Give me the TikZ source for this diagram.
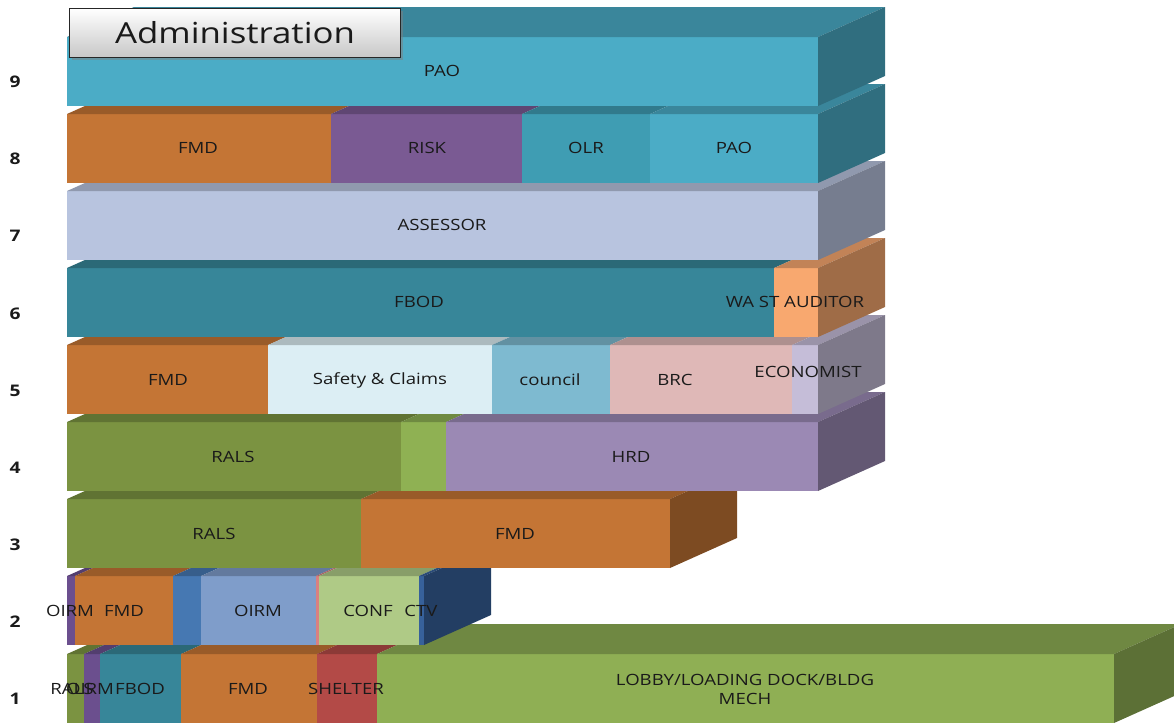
\documentclass[tikz,border=0pt]{standalone}
\usepackage{fontspec}
\setmainfont[FakeStretch=1.2]{Open Sans}
\usetikzlibrary{shadows}

% department colours
\definecolor{pao}{HTML}{4BACC6}
\definecolor{fmd}{HTML}{C47535}
\definecolor{risk}{HTML}{7A5A93}
\definecolor{olr}{HTML}{3F9DB3}
\definecolor{assessor}{HTML}{B8C4DF}
\definecolor{fbod}{HTML}{378699}
\definecolor{auditor}{HTML}{F8A86F}
\definecolor{safety}{HTML}{DCEEF4}
\definecolor{council}{HTML}{7EBAD0}
\definecolor{brc}{HTML}{DFB8B7}
\definecolor{econ}{HTML}{C5BDD8}
\definecolor{rals}{HTML}{7B9341}
\definecolor{ralslt}{HTML}{8FB153}
\definecolor{hrd}{HTML}{9B89B4}
\definecolor{oirmp}{HTML}{6B4F8E}
\definecolor{fmdblue}{HTML}{4678B2}
\definecolor{oirm}{HTML}{7F9DCA}
\definecolor{pink}{HTML}{D98080}
\definecolor{conf}{HTML}{AFCA86}
\definecolor{ctv}{HTML}{37619A}
\definecolor{shelter}{HTML}{B34A47}
\definecolor{lobby}{HTML}{8FAF54}
\definecolor{txt}{HTML}{1A1A1A}

% front + top face of one block: top y, left x, right x, colour
\newcommand{\floorseg}[4]{%
  \fill[#4] (#2,#1) rectangle (#3,#1+69);
  \fill[#4!78!black] (#2,#1) -- (#2+67,#1-30) -- (#3+67,#1-30) -- (#3,#1) -- cycle;}
% right end face of a floor: top y, right x, colour
\newcommand{\floorside}[3]{%
  \fill[#3!64!black] (#2,#1) -- (#2+67,#1-30) -- (#2+67,#1+39) -- (#2,#1+69) -- cycle;}

\begin{document}
\begin{tikzpicture}[x=1pt, y=-1pt,
    lbl/.style={text=txt, inner sep=0pt, align=center, font=\fontsize{15.5}{19}\selectfont},
    num/.style={text=txt, inner sep=0pt, font=\fontsize{16}{18}\selectfont\bfseries},
    ttl/.style={draw=black!85, line width=1pt, top color=white, bottom color=black!22,
        drop shadow, minimum width=331pt, minimum height=49pt, text=txt,
        font=\fontsize{29}{32}\selectfont}]
    \useasboundingbox (0,0) rectangle (1174,723);
    \clip (0,0) rectangle (1174,723);

    % floor 1
    \floorseg{654}{67}{84}{rals}
    \floorseg{654}{84}{100}{oirmp}
    \floorseg{654}{100}{181}{fbod}
    \floorseg{654}{181}{317}{fmd}
    \floorseg{654}{317}{377}{shelter}
    \floorseg{654}{377}{1114}{lobby}
    \floorside{654}{1114}{lobby}
    \node[lbl] (f1rals) at (72,689) {RALS};
    \node[lbl] (f1oirm) at (90,689) {OIRM};
    \node[lbl] (f1fbod) at (140,689) {FBOD};
    \node[lbl] (f1fmd) at (248,689) {FMD};
    \node[lbl] (f1shelter) at (346,689) {SHELTER};
    \node[lbl] (f1lobby) at (745,689) {LOBBY/LOADING DOCK/BLDG\\MECH};

    % floor 2
    \floorseg{576}{67}{75}{oirmp}
    \floorseg{576}{75}{173}{fmd}
    \floorseg{576}{173}{201}{fmdblue}
    \floorseg{576}{201}{316}{oirm}
    \floorseg{576}{316}{319}{pink}
    \floorseg{576}{319}{419}{conf}
    \floorseg{576}{419}{424}{ctv}
    \floorside{576}{424}{ctv}
    \node[lbl] (f2oirma) at (70,611) {OIRM};
    \node[lbl] (f2fmd) at (124,611) {FMD};
    \node[lbl] (f2oirmb) at (258,611) {OIRM};
    \node[lbl] (f2conf) at (368,611) {CONF};
    \node[lbl] (f2ctv) at (421,611) {CTV};

    % floor 3
    \floorseg{499}{67}{361}{rals}
    \floorseg{499}{361}{670}{fmd}
    \floorside{499}{670}{fmd}
    \node[lbl] (f3rals) at (214,534) {RALS};
    \node[lbl] (f3fmd) at (515,534) {FMD};

    % floor 4
    \floorseg{422}{67}{401}{rals}
    \floorseg{422}{401}{446}{ralslt}
    \floorseg{422}{446}{818}{hrd}
    \floorside{422}{818}{hrd}
    \node[lbl] (f4rals) at (233,457) {RALS};
    \node[lbl] (f4hrd) at (631,457) {HRD};

    % floor 5
    \floorseg{345}{67}{268}{fmd}
    \floorseg{345}{268}{492}{safety}
    \floorseg{345}{492}{610}{council}
    \floorseg{345}{610}{792}{brc}
    \floorseg{345}{792}{818}{econ}
    \floorside{345}{818}{econ}
    \node[lbl] (f5fmd) at (168,380) {FMD};
    \node[lbl] (f5safety) at (380,380) {Safety \& Claims};
    \node[lbl] (f5council) at (550,380) {council};
    \node[lbl] (f5brc) at (675,380) {BRC};
    \node[lbl] (f5econ) at (808,372) {ECONOMIST};

    % floor 6
    \floorseg{268}{67}{774}{fbod}
    \floorseg{268}{774}{818}{auditor}
    \floorside{268}{818}{auditor}
    \node[lbl] (f6fbod) at (419,302) {FBOD};
    \node[lbl] (f6auditor) at (795,302) {WA ST AUDITOR};

    % floor 7
    \floorseg{191}{67}{818}{assessor}
    \floorside{191}{818}{assessor}
    \node[lbl] (f7assessor) at (442,225) {ASSESSOR};

    % floor 8
    \floorseg{114}{67}{331}{fmd}
    \floorseg{114}{331}{522}{risk}
    \floorseg{114}{522}{650}{olr}
    \floorseg{114}{650}{818}{pao}
    \floorside{114}{818}{pao}
    \node[lbl] (f8fmd) at (198,148) {FMD};
    \node[lbl] (f8risk) at (427,148) {RISK};
    \node[lbl] (f8olr) at (586,148) {OLR};
    \node[lbl] (f8pao) at (734,148) {PAO};

    % floor 9
    \floorseg{37}{67}{818}{pao}
    \floorside{37}{818}{pao}
    \node[lbl] (f9pao) at (442,71) {PAO};

    % floor numbers
    \foreach \n in {1,...,9} { \node[num] (n\n) at (15,{699-(\n-1)*77.125}) {\n}; }

    \node[ttl] (admin) at (235,33) {Administration};
\end{tikzpicture}
\end{document}
